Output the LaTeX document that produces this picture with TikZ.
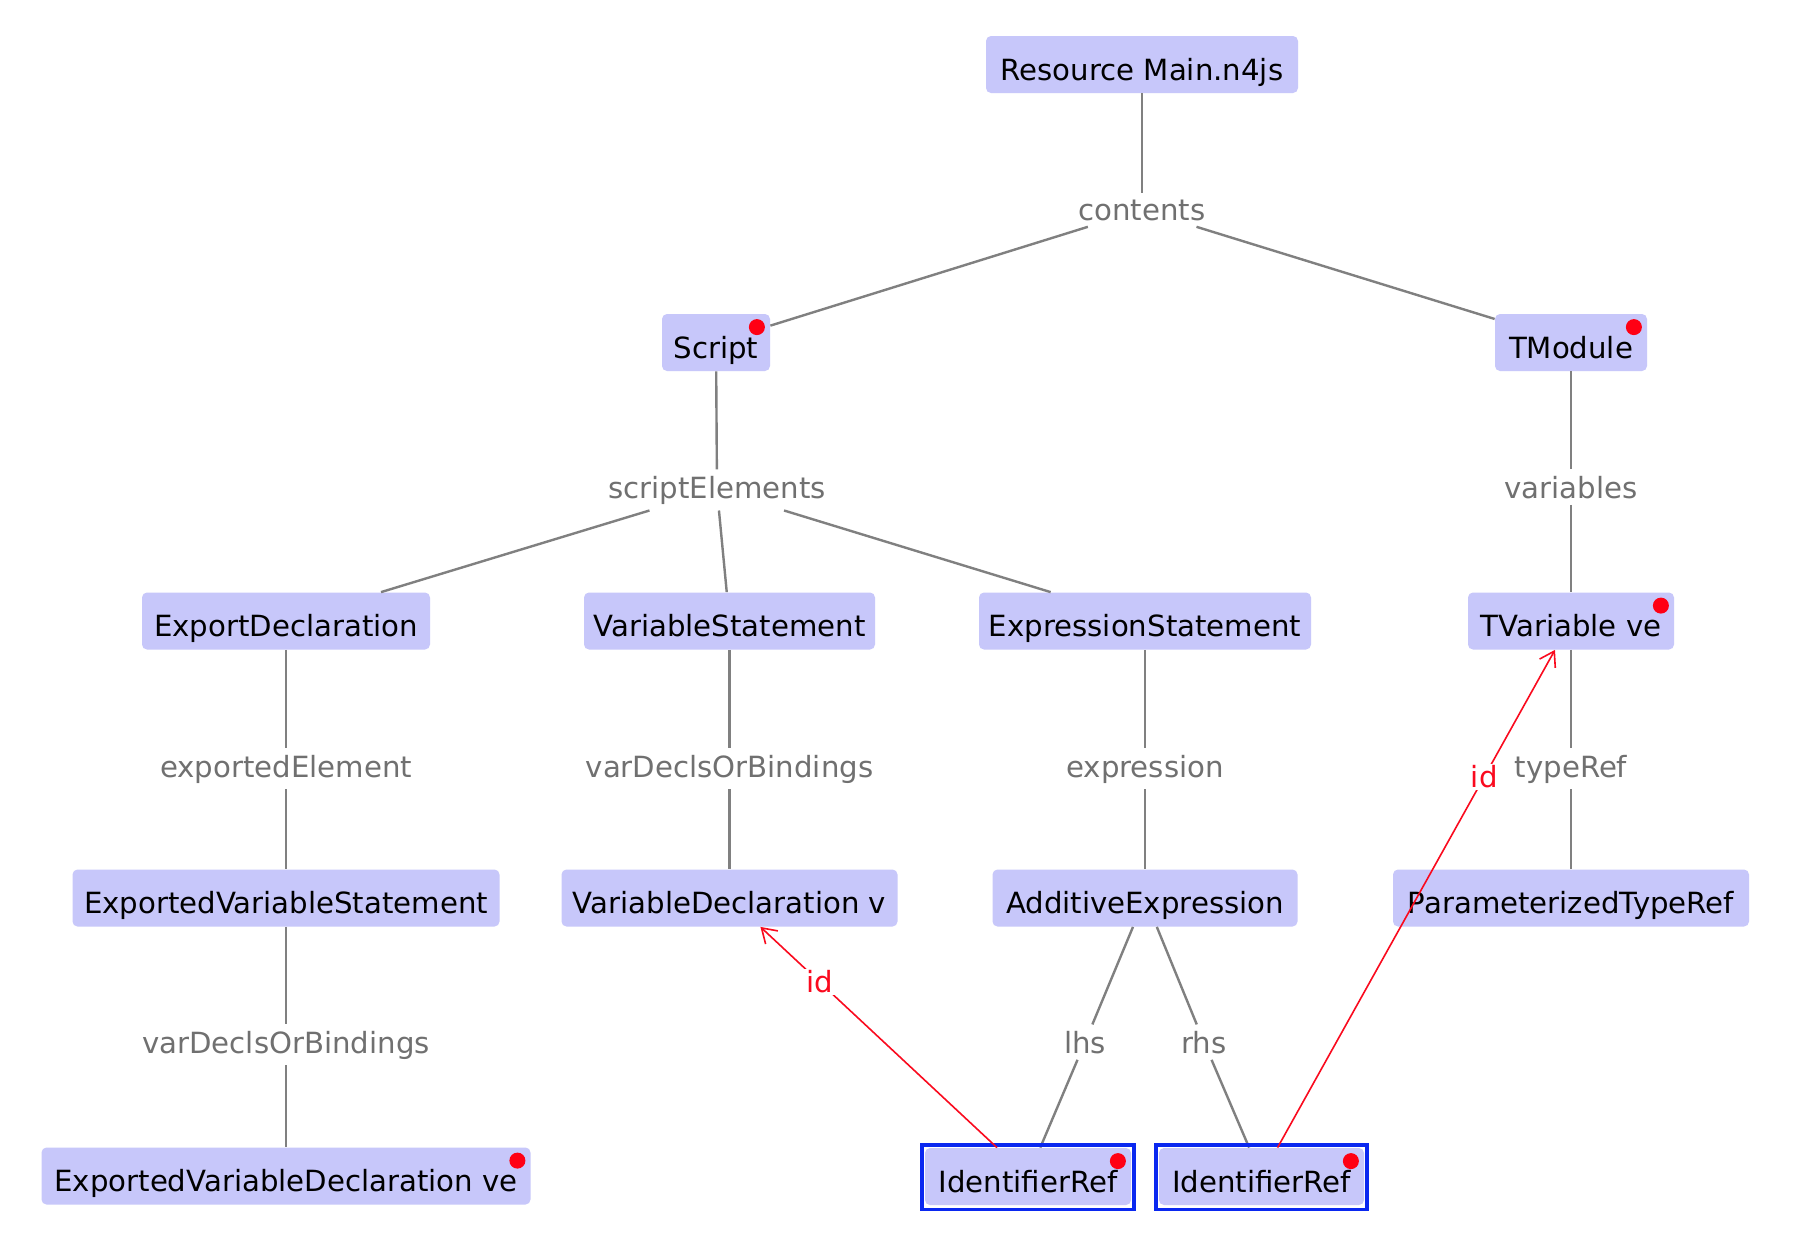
\documentclass[tikz,border=0pt]{standalone}
\usepackage{fontspec}
\setmainfont{DejaVu Sans}
\usetikzlibrary{arrows.meta,calc}
\definecolor{nodefill}{RGB}{199,199,250}
\definecolor{edgegray}{RGB}{128,128,128}
\definecolor{labgray}{RGB}{112,112,112}
\definecolor{refred}{RGB}{250,10,30}
\definecolor{selblue}{RGB}{10,40,240}
\definecolor{dotred}{RGB}{255,0,20}
\begin{document}
\begin{tikzpicture}[x=0.5pt,y=-0.5pt,
  box/.style={rectangle, rounded corners=2.5pt, fill=nodefill, minimum height=28.5pt,
    inner sep=0pt, text height=15.5pt, text depth=0pt, font=\fontsize{14.6pt}{17pt}\selectfont},
  elabel/.style={anchor=base, inner xsep=3pt, inner ysep=3pt, text=labgray, font=\fontsize{14.6pt}{17pt}\selectfont},
  edge/.style={draw=edgegray, line width=1.2pt},
  idref/.style={draw=refred, line width=0.8pt, -{Straight Barb[length=7pt,width=9pt]}},
  idlabel/.style={text=refred, fill=white, inner sep=1pt, font=\fontsize{14.6pt}{17pt}\selectfont},
  ]
\useasboundingbox (0,0) rectangle (1795,1250);
\fill[white] (0,0) rectangle (1795,1250);

% boxes
\node[box, minimum width=156pt] (res) at (1142,64.5) {Resource Main.n4js};
\node[box, minimum width=54pt] (script) at (716,342.5) {Script};
\node[box, minimum width=76pt] (tmod) at (1571,342.5) {TModule};
\node[box, minimum width=144pt] (expdecl) at (286,621) {ExportDeclaration};
\node[box, minimum width=145.5pt] (varstmt) at (729.5,621) {VariableStatement};
\node[box, minimum width=166pt] (exprstmt) at (1145,621) {ExpressionStatement};
\node[box, minimum width=103pt] (tvar) at (1571,621) {TVariable ve};
\node[box, minimum width=213.5pt] (expvarstmt) at (286,898) {ExportedVariableStatement};
\node[box, minimum width=168pt] (vardecl) at (729.5,898) {VariableDeclaration v};
\node[box, minimum width=152.5pt] (addexpr) at (1145,898) {AdditiveExpression};
\node[box, minimum width=178pt] (ptr) at (1571,898) {ParameterizedTypeRef};
\node[box, minimum width=244.5pt] (evd) at (286,1176) {ExportedVariableDeclaration ve};
\node[box, minimum width=103pt] (id1) at (1028,1176.5) {IdentifierRef};
\node[box, minimum width=102.5pt] (id2) at (1261.5,1176.5) {IdentifierRef};

% edge labels
\node[elabel] (lcont) at (1142,220) {contents};
\node[elabel] (lse) at (717,498) {scriptElements};
\node[elabel] (lvars) at (1571,498) {variables};
\node[elabel] (lexpel) at (286,777) {exportedElement};
\node[elabel] (lvdb1) at (729.5,777) {varDeclsOrBindings};
\node[elabel] (lexpr) at (1145,777) {expression};
\node[elabel] (ltr) at (1571,777) {typeRef};
\node[elabel] (lvdb2) at (286,1053) {varDeclsOrBindings};
\node[elabel] (llhs) at (1085,1053) {lhs};
\node[elabel] (lrhs) at (1204,1053) {rhs};

% containment edges
\draw[edge] (res) -- (lcont);
\draw[edge] (lcont) -- (script);
\draw[edge] (lcont) -- (tmod);
\draw[edge] (script) -- (lse);
\draw[edge] (lse) -- (expdecl);
\draw[edge] (lse) -- (varstmt);
\draw[edge] (lse) -- (exprstmt);
\draw[edge] (tmod) -- (lvars);
\draw[edge] (lvars) -- (tvar);
\draw[edge] (expdecl) -- (lexpel);
\draw[edge] (lexpel) -- (expvarstmt);
\draw[edge] (varstmt) -- (lvdb1);
\draw[edge] (lvdb1) -- (vardecl);
\draw[edge] (exprstmt) -- (lexpr);
\draw[edge] (lexpr) -- (addexpr);
\draw[edge] (tvar) -- (ltr);
\draw[edge] (ltr) -- (ptr);
\draw[edge] (expvarstmt) -- (lvdb2);
\draw[edge] (lvdb2) -- (evd);
\draw[edge] (addexpr) -- (llhs);
\draw[edge] (llhs) -- (id1);
\draw[edge] (addexpr) -- (lrhs);
\draw[edge] (lrhs) -- (id2);

% selection frames
\draw[selblue, line width=1.6pt] ($(id1.south west)+(-1.3pt,-2.2pt)$) rectangle ($(id1.north east)+(1.3pt,1.3pt)$);
\draw[selblue, line width=1.6pt] ($(id2.south west)+(-1.3pt,-2.2pt)$) rectangle ($(id2.north east)+(1.3pt,1.3pt)$);

% reference edges
\draw[idref] (id1) -- node[idlabel, pos=0.75] (lid1) {id} (vardecl);
\draw[idref] (id2) -- node[idlabel, pos=0.745] (lid2) {id} (tvar);

% markers
\foreach \n in {script, tmod, tvar, evd, id1, id2}
  \fill[dotred] ($(\n.north east)+(-6.75pt,-6.75pt)$) circle[radius=4pt];
\end{tikzpicture}
\end{document}
